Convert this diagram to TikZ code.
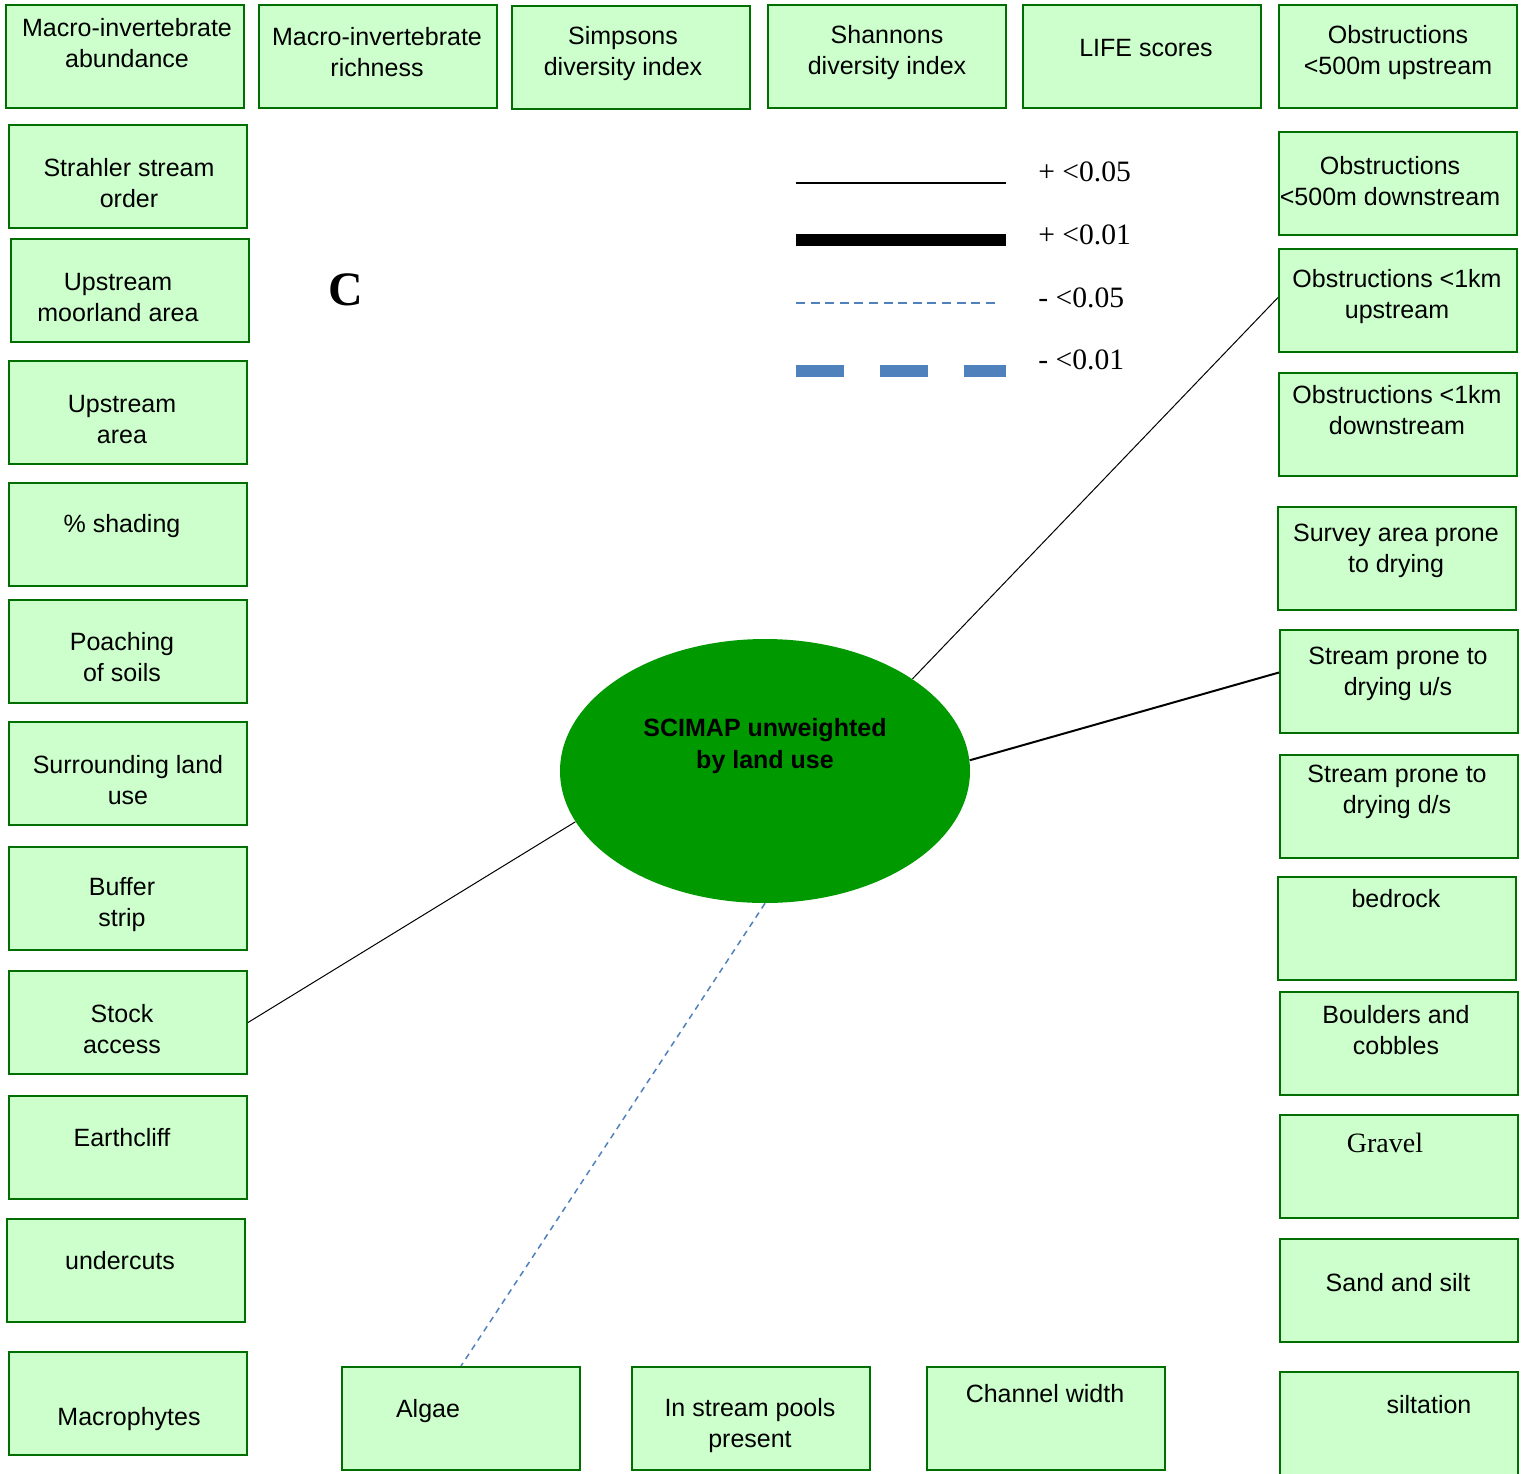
\documentclass[tikz,border=0pt]{standalone}
\usepackage{fontspec}
\setmainfont{Liberation Sans}
\newfontfamily\serifface{Liberation Serif}
\definecolor{boxFill}{HTML}{CCFFCC}
\definecolor{boxLine}{HTML}{006E00}
\definecolor{sciGreen}{HTML}{009900}
\definecolor{negBlue}{HTML}{4F81BD}
\usetikzlibrary{shapes.geometric}

\begin{document}
\begin{tikzpicture}[x=0.5pt, y=-0.5pt,
  gbox/.style={draw=boxLine, fill=boxFill, line width=1pt, rectangle,
    minimum width=119pt, minimum height=51.5pt, inner sep=0pt, anchor=north west},
  gtxt/.style={font=\fontsize{12.5}{15.5}\selectfont, align=center, inner sep=0pt},
  legtxt/.style={font=\serifface\fontsize{14.8}{16}\selectfont, anchor=west, inner sep=0pt},
  pos05/.style={black, line width=0.5pt},
  pos01/.style={black, line width=1pt},
  neg05/.style={negBlue, line width=0.75pt, dash pattern=on 3pt off 2.5pt}]
  \useasboundingbox (0,0) rectangle (1523,1474);
  % variable boxes: name / corner x / corner y / text x / text y / text
  \foreach \nm/\x/\y/\tx/\ty/\txt in {
      abund/5/4/127/43.5/{Macro-invertebrate\\abundance},
      rich/258/4/377/52.5/{Macro-invertebrate\\richness},
      simp/511/5/623/54/{Simpsons\\diversity index},
      shan/767/4/887/52.5/{Shannons\\diversity index},
      life/1022/4/1146/48/{LIFE scores},
      obsfiveup/1278/4/1398/52.5/{Obstructions\\<500m upstream},
      strahler/8/124/129/183/{Strahler stream\\order},
      moor/10/238/118/297.5/{Upstream\\moorland area},
      uparea/8/360/122/419.5/{Upstream\\area},
      shading/8/482/122/526/{\% shading},
      poach/8/599/122/657.5/{Poaching\\of soils},
      surround/8/721/128/780.5/{Surrounding land\\use},
      buffer/8/846/122/904.5/{Buffer\\strip},
      stock/8/970/122/1029.5/{Stock\\access},
      earth/8/1095/122/1138/{Earthcliff},
      under/6/1218/120/1261/{undercuts},
      macro/8/1351/129/1419/{Macrophytes},
      algae/341/1366/428/1411/{Algae},
      pools/631/1366/750/1425.5/{In stream pools\\present},
      channel/926/1366/1045/1394/{Channel width},
      obsfivedown/1278/131/1390/181/{Obstructions\\<500m downstream},
      obsoneup/1278/248/1397/296.5/{Obstructions <1km\\upstream},
      obsonedown/1278/372/1397/410.5/{Obstructions <1km\\downstream},
      survey/1277/506/1396/550.5/{Survey area prone\\to drying},
      dryup/1279/629/1398/673.5/{Stream prone to\\drying u/s},
      drydown/1279/754/1397/792/{Stream prone to\\drying d/s},
      bedrock/1277/876/1396/899/{bedrock},
      boulders/1279/991/1396/1030/{Boulders and\\cobbles},
      gravel/1279/1114/1385/1143/{{\serifface\fontsize{14}{16}\selectfont Gravel}},
      sand/1279/1238/1398/1283/{Sand and silt},
      silt/1279/1371/1429/1405/{siltation}}{
    \node[gbox] (\nm) at (\x,\y) {};
    \node[gtxt] at (\tx,\ty) {\txt};}
  % central variable
  \node[ellipse, fill=sciGreen, minimum width=205pt, minimum height=132pt,
    inner sep=0pt] (scimap) at (765,771) {};
  \node[gtxt, font=\bfseries\fontsize{12.5}{16}\selectfont] at (765,746)
    {SCIMAP unweighted\\by land use};
  \node[font=\serifface\bfseries\fontsize{24}{24}\selectfont, inner sep=0pt]
    at (346,290) {C};
  % correlations
  \draw[pos05] (scimap.32) -- ([yshift=1.5pt]obsoneup.west);
  \draw[pos01] (scimap.3) -- ([yshift=4.5pt]dryup.west);
  \draw[pos05] (scimap.195) -- (stock.east);
  \draw[neg05] (scimap.south) -- (algae.north);
  % legend
  \draw[black, line width=0.75pt] (796,183) -- (1006,183);
  \draw[black, line width=6pt] (796,240) -- (1006,240);
  \draw[negBlue, line width=1pt, dash pattern=on 4.5pt off 2.8pt] (796,303) -- (1000,303);
  \draw[negBlue, line width=6pt, dash pattern=on 24pt off 18pt] (796,371) -- (1006,371);
  \node[legtxt] at (1038,172) {+ <0.05};
  \node[legtxt] at (1038,235) {+ <0.01};
  \node[legtxt] at (1038,298) {- <0.05};
  \node[legtxt] at (1038,360) {- <0.01};
\end{tikzpicture}
\end{document}
